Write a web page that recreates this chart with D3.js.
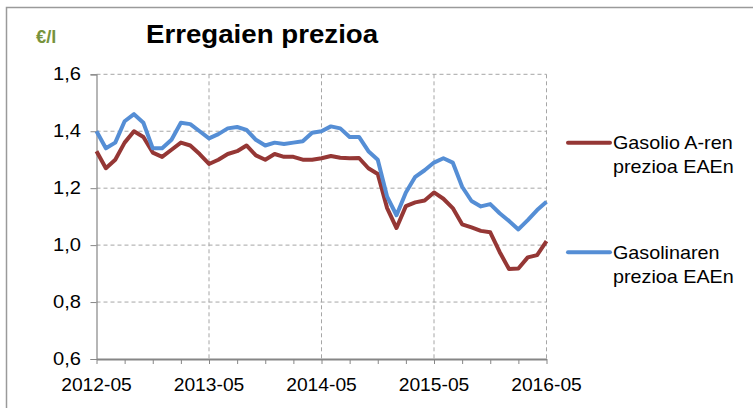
<!DOCTYPE html>
<html><head><meta charset="utf-8">
<script src="https://cdn.jsdelivr.net/npm/d3@7"></script>
<style>body{margin:0;background:#fff}svg{display:block}text{font-family:"Liberation Sans",Arial,sans-serif}</style>
</head><body>
<svg id="c" width="753" height="408"></svg>
<script>
const title = "Erregaien prezioa";
const unitLabel = "€/l";
const months = d3.timeMonths(new Date(2012,4,1), new Date(2016,5,1)).map(d3.timeFormat("%Y-%m"));
const xTickLabels = ["2012-05","2013-05","2014-05","2015-05","2016-05"];
const yTicks = [0.6,0.8,1.0,1.2,1.4,1.6];
const seriesNames = [["Gasolio A-ren","prezioa EAEn"],["Gasolinaren","prezioa EAEn"]];
const diesel = [1.33,1.27,1.30,1.36,1.40,1.38,1.325,1.31,1.335,1.36,1.35,1.32,
  1.285,1.30,1.32,1.33,1.35,1.315,1.30,1.32,1.31,1.31,1.30,1.30,
  1.305,1.313,1.307,1.305,1.306,1.27,1.25,1.13,1.06,1.137,1.15,1.157,
  1.185,1.163,1.13,1.073,1.062,1.05,1.045,0.976,0.916,0.918,0.957,0.965,1.014];
const gasoline = [1.40,1.34,1.36,1.435,1.46,1.43,1.34,1.34,1.37,1.43,1.425,1.40,
  1.375,1.39,1.41,1.415,1.405,1.37,1.35,1.36,1.355,1.36,1.365,1.395,
  1.40,1.417,1.41,1.38,1.38,1.33,1.30,1.17,1.105,1.185,1.24,1.263,
  1.29,1.305,1.29,1.205,1.155,1.136,1.144,1.112,1.085,1.055,1.088,1.123,1.152];
const colors = ["#953735","#558ED5"];

const svg = d3.select("#c");
const x = d3.scalePoint().domain(months).range([96.5, 546.5]);
const y = d3.scaleLinear().domain([0.6,1.6]).range([359, 74.3]);
const sx = 1.1;

// frame
svg.append("path").attr("d","M6.5,408V7.5H753").attr("fill","none").attr("stroke","#9a9a9a").attr("stroke-width",1.5);

// title + unit
svg.append("g").attr("transform",`translate(146,43) scale(1.085,1)`).append("text")
  .attr("font-size",25.5).attr("font-weight","bold").attr("fill","#000").text(title);
svg.append("g").attr("transform",`translate(36,43) scale(1.05,1)`).append("text")
  .attr("font-size",17.5).attr("font-weight","bold").attr("fill","#77933C").text(unitLabel);

// grid
const grid = svg.append("g").attr("stroke","#a6a6a6").attr("stroke-dasharray","4,3").attr("stroke-width",1);
yTicks.filter(v=>v>0.6).forEach(v=>{
  grid.append("line").attr("x1",x.range()[0]).attr("x2",x.range()[1]).attr("y1",y(v)).attr("y2",y(v));
});
xTickLabels.slice(1).forEach(m=>{
  grid.append("line").attr("x1",x(m)).attr("x2",x(m)).attr("y1",y(1.6)).attr("y2",y(0.6));
});

// y axis
const yAxis = svg.append("g").attr("transform",`translate(${x.range()[0]},0)`)
  .call(d3.axisLeft(y).tickValues(yTicks).tickSize(6).tickFormat(""));
yAxis.select(".domain").attr("stroke","#868686").attr("stroke-width",1.2);
yAxis.selectAll(".tick line").attr("stroke","#868686");
const fmt = d=>d3.format(".1f")(d).replace(".",",");
yTicks.forEach(v=>{
  svg.append("g").attr("transform",`translate(81,${y(v)+6}) scale(1.15,1)`).append("text")
    .attr("text-anchor","end").attr("font-size",17.5).attr("fill","#000").text(fmt(v));
});

// x axis
const quarterly = months.filter((m,i)=>i%3===0);
const xAxis = svg.append("g").attr("transform",`translate(0,${y(0.6)})`)
  .call(d3.axisBottom(x).tickValues(quarterly).tickSize(5).tickSizeOuter(0).tickFormat(""));
xAxis.select(".domain").attr("stroke","#868686").attr("stroke-width",2);
xAxis.selectAll(".tick line").attr("stroke","#868686");
xTickLabels.forEach(m=>{
  svg.append("g").attr("transform",`translate(${x(m)},${391}) scale(${sx},1)`).append("text")
    .attr("text-anchor","middle").attr("font-size",17.5).attr("fill","#000").text(m);
});

// lines
const line = d3.line().x((d,i)=>x(months[i])).y(d=>y(d));
[diesel, gasoline].forEach((s,k)=>{
  svg.append("path").datum(s).attr("d",line).attr("fill","none")
    .attr("stroke",colors[k]).attr("stroke-width",4).attr("stroke-linejoin","round");
});

// legend
const legY = [142.7, 252.3];
seriesNames.forEach((nm,k)=>{
  svg.append("line").attr("x1",568).attr("x2",610).attr("y1",legY[k]).attr("y2",legY[k])
    .attr("stroke",colors[k]).attr("stroke-width",4).attr("stroke-linecap","round");
  nm.forEach((t,j)=>{
    svg.append("g").attr("transform",`translate(613,${legY[k]+6.5+j*24}) scale(1.04,1)`).append("text")
      .attr("font-size",19).attr("fill","#000").text(t);
  });
});
</script>
</body></html>
